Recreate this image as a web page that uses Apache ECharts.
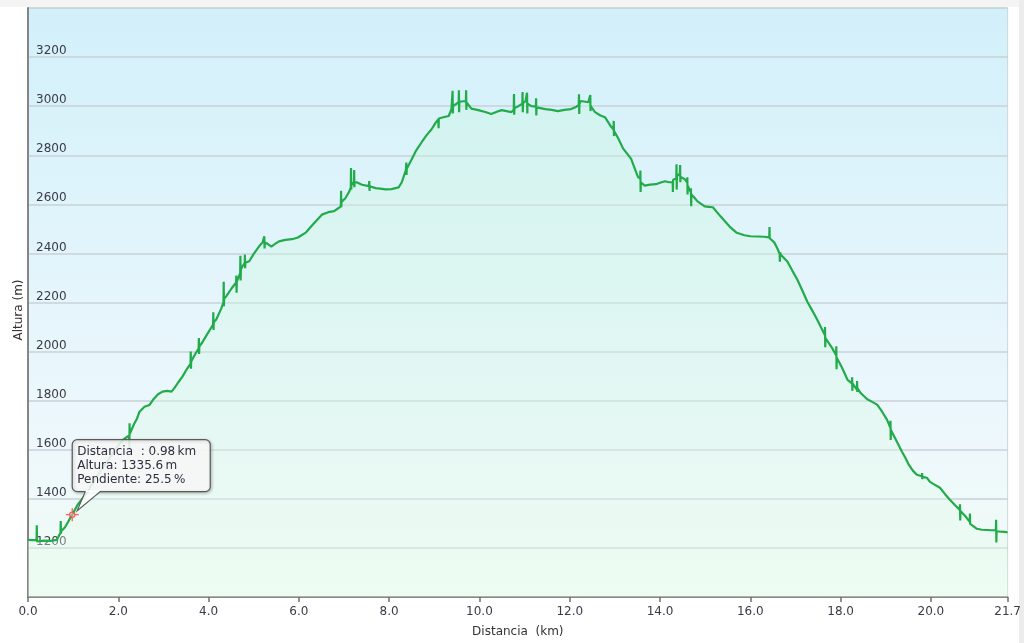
<!DOCTYPE html>
<html>
<head>
<meta charset="utf-8">
<script src="https://cdn.jsdelivr.net/npm/echarts@6/dist/echarts.min.js"></script>
<style>
html,body{margin:0;padding:0;background:#fff;}
#c{width:1024px;height:643px;}
</style>
</head>
<body>
<div id="c"></div>
<script>
// distance (km) and altitude (m)
const distKm = [0.00,0.10,0.19,0.195,0.20,0.205,0.35,0.50,0.64,0.68,0.72,0.725,0.73,0.735,0.82,0.90,0.98,1.10,1.20,1.32,1.42,1.55,1.68,1.81,1.95,2.10,2.24,2.245,2.25,2.255,2.35,2.41,2.47,2.58,2.69,2.78,2.88,2.98,3.08,3.18,3.25,3.33,3.42,3.53,3.60,3.605,3.61,3.615,3.64,3.72,3.78,3.785,3.79,3.795,3.86,3.95,4.05,4.10,4.105,4.11,4.115,4.17,4.28,4.33,4.335,4.34,4.345,4.39,4.50,4.61,4.615,4.62,4.625,4.70,4.705,4.71,4.715,4.75,4.80,4.805,4.81,4.815,4.90,5.00,5.12,5.20,5.23,5.235,5.24,5.245,5.30,5.39,5.48,5.56,5.70,5.85,5.98,6.16,6.33,6.51,6.65,6.78,6.88,6.93,6.935,6.94,6.945,7.03,7.11,7.15,7.155,7.16,7.165,7.22,7.225,7.23,7.235,7.28,7.40,7.55,7.56,7.565,7.57,7.70,7.80,7.92,8.05,8.21,8.28,8.37,8.38,8.385,8.39,8.50,8.60,8.72,8.83,8.94,9.02,9.09,9.095,9.10,9.20,9.32,9.38,9.40,9.405,9.41,9.415,9.54,9.545,9.55,9.555,9.65,9.70,9.705,9.71,9.715,9.82,9.95,10.13,10.26,10.40,10.49,10.60,10.71,10.76,10.765,10.77,10.775,10.86,10.95,10.955,10.96,10.965,11.02,11.05,11.055,11.06,11.065,11.15,11.25,11.255,11.26,11.265,11.35,11.46,11.60,11.74,11.88,12.03,12.15,12.20,12.205,12.21,12.215,12.25,12.35,12.41,12.45,12.455,12.46,12.465,12.56,12.68,12.78,12.91,12.97,12.975,12.98,12.985,13.07,13.18,13.36,13.51,13.56,13.565,13.57,13.575,13.66,13.78,13.91,14.00,14.11,14.20,14.28,14.285,14.29,14.36,14.365,14.37,14.375,14.44,14.445,14.45,14.455,14.55,14.60,14.605,14.61,14.615,14.68,14.685,14.69,14.695,14.75,14.83,14.99,15.08,15.17,15.34,15.56,15.70,15.87,16.00,16.16,16.30,16.42,16.425,16.43,16.53,16.60,16.65,16.655,16.66,16.67,16.82,16.93,17.04,17.15,17.26,17.37,17.48,17.59,17.65,17.655,17.66,17.665,17.70,17.81,17.90,17.905,17.91,17.915,17.92,18.03,18.15,18.25,18.255,18.26,18.265,18.32,18.36,18.365,18.37,18.375,18.45,18.59,18.70,18.81,18.92,19.03,19.10,19.105,19.11,19.115,19.14,19.25,19.36,19.44,19.51,19.60,19.69,19.80,19.805,19.81,19.815,19.91,19.98,20.08,20.20,20.31,20.42,20.53,20.64,20.645,20.65,20.655,20.76,20.86,20.865,20.87,20.875,21.02,21.13,21.24,21.34,21.44,21.445,21.45,21.455,21.56,21.68,21.70];
const altM = [1233,1232,1233,1292,1226,1234,1230,1229,1233,1248,1262,1310,1258,1268,1284,1310,1335.6,1376,1400,1428,1462,1498,1532,1567,1605,1640,1658,1605,1708,1665,1705,1725,1755,1775,1782,1806,1826,1837,1840,1837,1853,1875,1898,1932,1950,2000,1930,1960,1967,1995,2012,2055,1990,2020,2037,2065,2095,2110,2160,2088,2120,2131,2175,2200,2285,2185,2215,2225,2255,2282,2310,2240,2285,2320,2390,2290,2335,2347,2360,2395,2340,2362,2368,2398,2429,2446,2452,2470,2420,2445,2440,2428,2440,2449,2455,2458,2465,2486,2522,2558,2568,2572,2585,2592,2655,2588,2610,2625,2650,2668,2748,2660,2690,2680,2740,2670,2688,2690,2680,2674,2695,2655,2674,2666,2664,2661,2662,2669,2690,2740,2770,2720,2745,2784,2820,2853,2882,2906,2930,2947,2910,2950,2955,2960,2988,2995,3063,2970,3000,3016,3065,2975,3018,3020,3020,3065,2985,3015,2990,2985,2976,2968,2978,2984,2980,2976,2985,3050,2965,2992,3000,3010,3058,2975,3012,3020,3018,3055,2970,3010,3000,2998,3032,2962,2995,2992,2988,2985,2980,2985,2988,2998,3005,3048,2968,3010,3021,3018,3016,3012,3045,2980,3000,2976,2962,2955,2918,2905,2940,2878,2898,2870,2828,2785,2712,2705,2738,2650,2690,2676,2680,2682,2688,2694,2690,2690,2650,2700,2705,2763,2660,2715,2725,2760,2690,2712,2702,2690,2710,2640,2675,2650,2665,2592,2640,2630,2612,2592,2590,2588,2551,2506,2484,2474,2470,2469,2468,2465,2508,2462,2445,2420,2398,2366,2405,2396,2367,2330,2294,2250,2204,2168,2131,2090,2068,2100,2018,2055,2049,2015,1985,2022,1928,1975,1980,1935,1886,1870,1895,1840,1870,1855,1845,1880,1835,1850,1830,1806,1795,1784,1755,1722,1690,1718,1640,1680,1673,1632,1592,1565,1539,1515,1498,1492,1505,1480,1490,1486,1469,1458,1445,1420,1396,1375,1355,1378,1312,1350,1330,1306,1340,1298,1305,1278,1274,1273,1272,1273,1315,1222,1268,1266,1264,1263];

// axis settings (tick values)
const xMin = 0, xMax = 21.7, xStep = 2;
const yMin = 1000, yMax = 3400, yStep = 200;

// highlighted point shown in the tooltip
const markKm = 0.98, markAlt = 1335.6, markSlope = 25.5;
const tipLines = ['Distancia  : ' + markKm.toFixed(2) + '\u2009km', 'Altura: ' + markAlt.toFixed(1) + '\u2009m', 'Pendiente: ' + markSlope.toFixed(1) + '\u2009%'];

const FONT = '"DejaVu Sans", Verdana, sans-serif';
const chart = echarts.init(document.getElementById('c'), null, {renderer: 'canvas'});
const profile = distKm.map((d, i) => [d, altM[i]]);

chart.setOption({
  animation: false,
  backgroundColor: '#ffffff',
  grid: {
    left: 28, right: 13, top: 8, bottom: 46,
    show: true,
    borderColor: '#cfd6d9', borderWidth: 1,
    backgroundColor: new echarts.graphic.LinearGradient(0, 0, 0, 1, [
      {offset: 0, color: '#d2f0fa'},
      {offset: 0.75, color: '#eef8fc'},
      {offset: 1, color: '#effcf3'}
    ])
  },
  xAxis: {
    type: 'value', min: xMin, max: xMax, interval: xStep,
    name: 'Distancia  (km)', nameLocation: 'middle', nameGap: 29,
    nameTextStyle: {fontFamily: FONT, fontSize: 12, color: '#333'},
    axisLine: {show: true, lineStyle: {color: '#6f6f6f', width: 1.5}},
    axisTick: {show: true, length: 5, lineStyle: {color: '#6f6f6f', width: 1.5}},
    axisLabel: {fontFamily: FONT, fontSize: 12, color: '#3a3a48', margin: 9,
      formatter: v => v.toFixed(1)},
    splitLine: {show: false}
  },
  yAxis: {
    type: 'value', min: yMin, max: yMax, interval: yStep,
    axisLine: {show: true, lineStyle: {color: '#858585', width: 2}},
    axisTick: {show: false},
    axisLabel: {inside: true, fontFamily: FONT, fontSize: 12, color: '#3a3a48',
      margin: 8, verticalAlign: 'bottom',
      formatter: v => (v === yMin || v === yMax) ? '' : String(v)},
    splitLine: {show: true, lineStyle: {color: '#c9d2d6', width: 1.5}}
  },
  series: [
    {
      type: 'line', data: profile, showSymbol: false, symbol: 'none',
      lineStyle: {color: '#22ab4a', width: 2.2},
      areaStyle: {
        origin: 'start',
        color: new echarts.graphic.LinearGradient(0, 0, 0, 1, [
          {offset: 0, color: 'rgba(200,245,225,0.55)'},
          {offset: 0.6, color: 'rgba(215,248,228,0.55)'},
          {offset: 1, color: 'rgba(235,252,238,0.5)'}
        ])
      },
      z: 2
    },
    {
      type: 'scatter', data: [[markKm, markAlt]],
      symbol: 'path://M0,10 L6,10 M14,10 L20,10 M10,0 L10,6 M10,14 L10,20 M14,10 A4,4 0 1,1 6,10 A4,4 0 1,1 14,10 Z',
      symbolSize: 13,
      itemStyle: {color: 'rgba(255,200,200,0.6)', borderColor: '#ff3b3b', borderWidth: 1.3},
      z: 5
    }
  ]
});

// tooltip bubble anchored on the highlighted data point
const p = chart.convertToPixel({gridIndex: 0}, [markKm, markAlt]);
const T = -75, W = 138, H = 52, B = T + H;
const ZT = 100;
chart.setOption({
  graphic: [
    {type: 'rect', shape: {x: 0, y: 0, width: 1024, height: 7}, style: {fill: '#f4f4f4'}, silent: true, z: 0},
    {type: 'rect', shape: {x: 1019, y: 0, width: 5, height: 643}, style: {fill: '#ececec'}, silent: true, z: 0},
    {type: 'text', x: 19, y: 310, rotation: Math.PI / 2,
      style: {text: 'Altura (m)', font: '12px ' + FONT, fill: '#333', align: 'center', verticalAlign: 'middle'}},
    {type: 'group', x: p[0], y: p[1], children: [
      {type: 'rect', z: ZT, shape: {x: 0, y: T, width: W, height: H, r: 5},
        style: {fill: 'rgba(255,255,255,0.86)', stroke: '#5a5a5a', lineWidth: 1.2, shadowBlur: 3, shadowColor: 'rgba(0,0,0,0.25)', shadowOffsetX: 1, shadowOffsetY: 1}},
      {type: 'polygon', z: ZT + 1, shape: {points: [[13.6, B - 0.6], [27.4, B - 0.6], [5, -4]]}, style: {fill: 'rgba(255,255,255,0.86)'}},
      {type: 'polyline', z: ZT + 2, shape: {points: [[13, B], [5, -4], [28, B]]}, style: {stroke: '#5a5a5a', lineWidth: 1.2, fill: null}},
      {type: 'rect', z: ZT + 1, shape: {x: 13.6, y: B - 1.2, width: 13.8, height: 1.8}, style: {fill: '#ffffff'}},
      {type: 'text', z: ZT + 3, x: 5, y: T + 12, style: {text: tipLines[0], font: '12px ' + FONT, fill: '#2e2e3e', verticalAlign: 'middle'}},
      {type: 'text', z: ZT + 3, x: 5, y: T + 26, style: {text: tipLines[1], font: '12px ' + FONT, fill: '#2e2e3e', verticalAlign: 'middle'}},
      {type: 'text', z: ZT + 3, x: 5, y: T + 40, style: {text: tipLines[2], font: '12px ' + FONT, fill: '#2e2e3e', verticalAlign: 'middle'}}
    ]}
  ]
});
</script>
</body>
</html>
